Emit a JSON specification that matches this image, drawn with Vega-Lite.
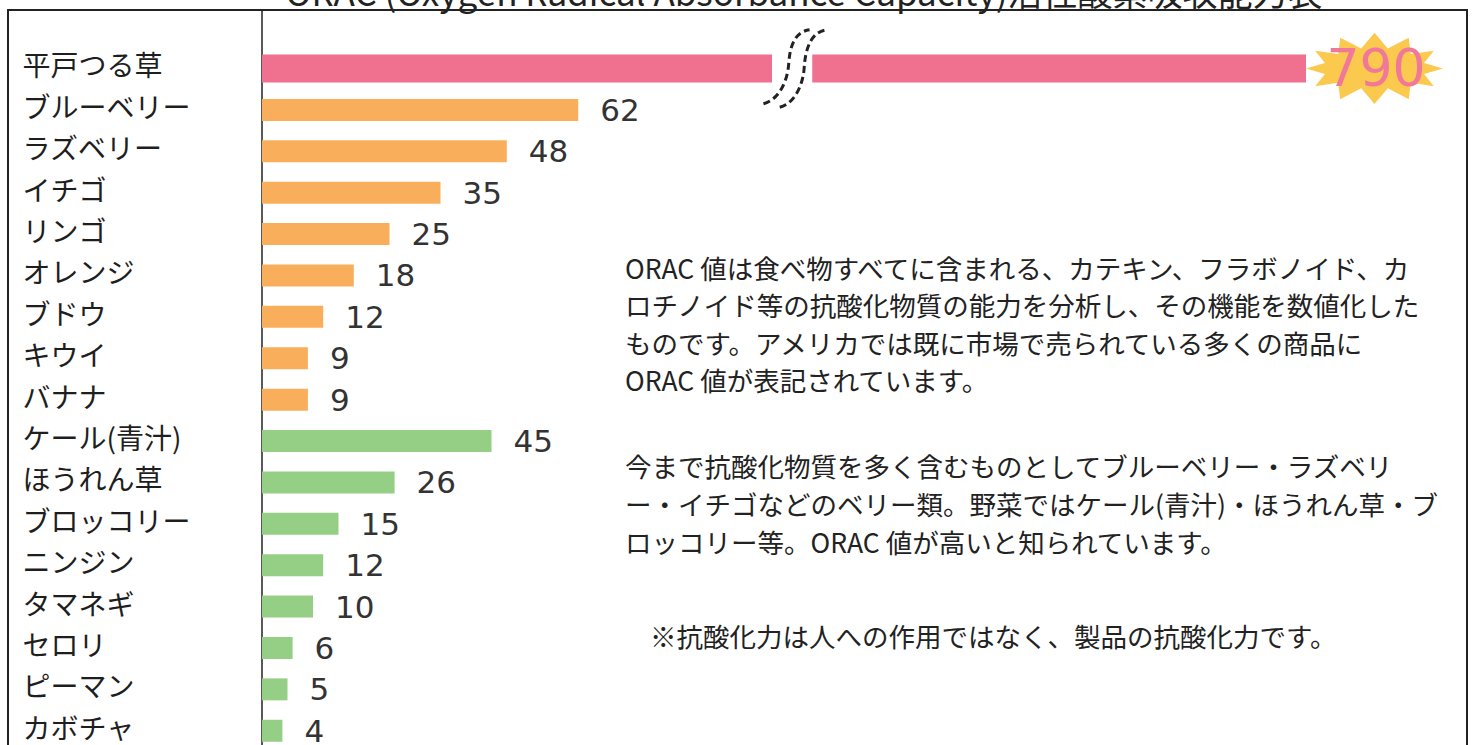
{
  "$schema": "https://vega.github.io/schema/vega-lite/v6.json",
  "width": 1459,
  "height": 767,
  "autosize": {"type": "none"},
  "padding": {"left": 8, "top": 10, "right": 8, "bottom": 0},
  "background": "white",
  "config": {
    "view": {"stroke": "#222222", "strokeWidth": 2},
    "font": "Noto Sans CJK JP"
  },
  "data": {
    "values": [
      {"item": "平戸つる草", "value": 790, "group": "hirado"},
      {"item": "ブルーベリー", "value": 62, "group": "fruit"},
      {"item": "ラズベリー", "value": 48, "group": "fruit"},
      {"item": "イチゴ", "value": 35, "group": "fruit"},
      {"item": "リンゴ", "value": 25, "group": "fruit"},
      {"item": "オレンジ", "value": 18, "group": "fruit"},
      {"item": "ブドウ", "value": 12, "group": "fruit"},
      {"item": "キウイ", "value": 9, "group": "fruit"},
      {"item": "バナナ", "value": 9, "group": "fruit"},
      {"item": "ケール(青汁)", "value": 45, "group": "vegetable"},
      {"item": "ほうれん草", "value": 26, "group": "vegetable"},
      {"item": "ブロッコリー", "value": 15, "group": "vegetable"},
      {"item": "ニンジン", "value": 12, "group": "vegetable"},
      {"item": "タマネギ", "value": 10, "group": "vegetable"},
      {"item": "セロリ", "value": 6, "group": "vegetable"},
      {"item": "ピーマン", "value": 5, "group": "vegetable"},
      {"item": "カボチャ", "value": 4, "group": "vegetable"}
    ]
  },
  "layer": [
    {
      "data": {"values": [{}]},
      "mark": {"type": "rule", "stroke": "#222222", "strokeWidth": 1.5},
      "encoding": {
        "x": {"datum": 0, "type": "quantitative", "axis": null,
          "scale": {"domain": [-49.8, 0, 100, 790, 880], "range": [0, 254, 764, 1298, 1459], "nice": false, "zero": false}}
      }
    },
    {
      "transform": [{"filter": "datum.group !== 'hirado'"}],
      "mark": {"type": "bar", "height": 22},
      "encoding": {
        "x": {"field": "value", "type": "quantitative", "axis": null,
          "scale": {"domain": [-49.8, 0, 100, 790, 880], "range": [0, 254, 764, 1298, 1459], "nice": false, "zero": false}},
        "x2": {"datum": 0},
        "y": {"field": "item", "type": "nominal",
          "scale": {"domain": ["平戸つる草","ブルーベリー","ラズベリー","イチゴ","リンゴ","オレンジ","ブドウ","キウイ","バナナ","ケール(青汁)","ほうれん草","ブロッコリー","ニンジン","タマネギ","セロリ","ピーマン","カボチャ"], "paddingInner": 0.47, "paddingOuter": 1, "align": 0.574},
          "axis": {"title": null, "domain": false, "ticks": false, "grid": false, "labelAlign": "left", "labelPadding": -14, "labelFont": "Noto Sans CJK JP", "labelFontSize": 28, "labelColor": "#1e1e1e", "labelLimit": 400, "labelBaseline": "middle"}},
        "color": {"field": "group", "type": "nominal", "legend": null,
          "scale": {"domain": ["hirado", "fruit", "vegetable"], "range": ["#F0718F", "#F9AE5C", "#95CF85"]}}
      }
    },
    {
      "transform": [{"filter": "datum.group === 'hirado'"}],
      "mark": {"type": "bar", "height": 28},
      "encoding": {
        "x": {"field": "value", "type": "quantitative", "axis": null,
          "scale": {"domain": [-49.8, 0, 100, 790, 880], "range": [0, 254, 764, 1298, 1459], "nice": false, "zero": false}},
        "x2": {"datum": 0},
        "y": {"field": "item", "type": "nominal",
          "scale": {"domain": ["平戸つる草","ブルーベリー","ラズベリー","イチゴ","リンゴ","オレンジ","ブドウ","キウイ","バナナ","ケール(青汁)","ほうれん草","ブロッコリー","ニンジン","タマネギ","セロリ","ピーマン","カボチャ"], "paddingInner": 0.47, "paddingOuter": 1, "align": 0.574},
          "axis": {"title": null, "domain": false, "ticks": false, "grid": false, "labelAlign": "left", "labelPadding": -14, "labelFont": "Noto Sans CJK JP", "labelFontSize": 28, "labelColor": "#1e1e1e", "labelLimit": 400, "labelBaseline": "middle"}},
        "color": {"field": "group", "type": "nominal", "legend": null,
          "scale": {"domain": ["hirado", "fruit", "vegetable"], "range": ["#F0718F", "#F9AE5C", "#95CF85"]}}
      }
    },
    {
      "data": {"values": [{}]},
      "mark": {"type": "bar", "height": 34, "color": "white"},
      "encoding": {
        "x": {"datum": 100, "type": "quantitative", "axis": null,
          "scale": {"domain": [-49.8, 0, 100, 790, 880], "range": [0, 254, 764, 1298, 1459], "nice": false, "zero": false}},
        "x2": {"datum": 152},
        "y": {"datum": "平戸つる草", "type": "nominal",
          "scale": {"domain": ["平戸つる草","ブルーベリー","ラズベリー","イチゴ","リンゴ","オレンジ","ブドウ","キウイ","バナナ","ケール(青汁)","ほうれん草","ブロッコリー","ニンジン","タマネギ","セロリ","ピーマン","カボチャ"], "paddingInner": 0.47, "paddingOuter": 1, "align": 0.574},
          "axis": {"title": null, "domain": false, "ticks": false, "grid": false, "labelAlign": "left", "labelPadding": -14, "labelFont": "Noto Sans CJK JP", "labelFontSize": 28, "labelColor": "#1e1e1e", "labelLimit": 400, "labelBaseline": "middle"}}
      }
    },
    {
      "data": {"values": [{}]},
      "mark": {"type": "point", "shape": "M-0.82,0.91 C-0.4,0.8 -0.2,0.3 -0.17,-0.1 C-0.14,-0.6 0,-0.95 0.37,-1 M-0.4,1 C0,0.9 0.2,0.4 0.23,0 C0.26,-0.5 0.4,-0.95 0.82,-1", "filled": false, "stroke": "#222222", "strokeWidth": 3, "strokeDash": [7, 4], "size": 6000, "opacity": 1},
      "encoding": {
        "x": {"datum": 130, "type": "quantitative", "axis": null,
          "scale": {"domain": [-49.8, 0, 100, 790, 880], "range": [0, 254, 764, 1298, 1459], "nice": false, "zero": false}},
        "y": {"datum": "平戸つる草", "type": "nominal",
          "scale": {"domain": ["平戸つる草","ブルーベリー","ラズベリー","イチゴ","リンゴ","オレンジ","ブドウ","キウイ","バナナ","ケール(青汁)","ほうれん草","ブロッコリー","ニンジン","タマネギ","セロリ","ピーマン","カボチャ"], "paddingInner": 0.47, "paddingOuter": 1, "align": 0.574},
          "axis": {"title": null, "domain": false, "ticks": false, "grid": false, "labelAlign": "left", "labelPadding": -14, "labelFont": "Noto Sans CJK JP", "labelFontSize": 28, "labelColor": "#1e1e1e", "labelLimit": 400, "labelBaseline": "middle"}}
      }
    },
    {
      "transform": [{"filter": "datum.group === 'hirado'"}],
      "mark": {"type": "point", "shape": "M1,-0.52 L1.194,-0.29 L1.5,-0.45 L1.53,-0.21 L1.866,-0.26 L1.724,-0.08 L2,0 L1.724,0.08 L1.866,0.26 L1.53,0.21 L1.5,0.45 L1.194,0.29 L1,0.52 L0.806,0.29 L0.5,0.45 L0.47,0.21 L0.134,0.26 L0.276,0.08 L0,0 L0.276,-0.08 L0.134,-0.26 L0.47,-0.21 L0.5,-0.45 L0.806,-0.29 Z", "filled": true, "fill": "#FCC94F", "strokeWidth": 0, "size": 18770, "opacity": 1},
      "encoding": {
        "x": {"field": "value", "type": "quantitative", "axis": null,
          "scale": {"domain": [-49.8, 0, 100, 790, 880], "range": [0, 254, 764, 1298, 1459], "nice": false, "zero": false}},
        "y": {"field": "item", "type": "nominal",
          "scale": {"domain": ["平戸つる草","ブルーベリー","ラズベリー","イチゴ","リンゴ","オレンジ","ブドウ","キウイ","バナナ","ケール(青汁)","ほうれん草","ブロッコリー","ニンジン","タマネギ","セロリ","ピーマン","カボチャ"], "paddingInner": 0.47, "paddingOuter": 1, "align": 0.574},
          "axis": {"title": null, "domain": false, "ticks": false, "grid": false, "labelAlign": "left", "labelPadding": -14, "labelFont": "Noto Sans CJK JP", "labelFontSize": 28, "labelColor": "#1e1e1e", "labelLimit": 400, "labelBaseline": "middle"}}
      }
    },
    {
      "transform": [{"filter": "datum.group === 'hirado'"}],
      "mark": {"type": "text", "align": "center", "baseline": "middle", "dx": 70, "dy": 2, "font": "DejaVu Sans", "fontSize": 52, "color": "#F2789A"},
      "encoding": {
        "x": {"field": "value", "type": "quantitative", "axis": null,
          "scale": {"domain": [-49.8, 0, 100, 790, 880], "range": [0, 254, 764, 1298, 1459], "nice": false, "zero": false}},
        "y": {"field": "item", "type": "nominal",
          "scale": {"domain": ["平戸つる草","ブルーベリー","ラズベリー","イチゴ","リンゴ","オレンジ","ブドウ","キウイ","バナナ","ケール(青汁)","ほうれん草","ブロッコリー","ニンジン","タマネギ","セロリ","ピーマン","カボチャ"], "paddingInner": 0.47, "paddingOuter": 1, "align": 0.574},
          "axis": {"title": null, "domain": false, "ticks": false, "grid": false, "labelAlign": "left", "labelPadding": -14, "labelFont": "Noto Sans CJK JP", "labelFontSize": 28, "labelColor": "#1e1e1e", "labelLimit": 400, "labelBaseline": "middle"}},
        "text": {"field": "value", "type": "quantitative"}
      }
    },
    {
      "transform": [{"filter": "datum.group !== 'hirado'"}],
      "mark": {"type": "text", "align": "left", "baseline": "middle", "dx": 22, "dy": 2, "font": "DejaVu Sans", "fontSize": 31, "color": "#333333"},
      "encoding": {
        "x": {"field": "value", "type": "quantitative", "axis": null,
          "scale": {"domain": [-49.8, 0, 100, 790, 880], "range": [0, 254, 764, 1298, 1459], "nice": false, "zero": false}},
        "y": {"field": "item", "type": "nominal",
          "scale": {"domain": ["平戸つる草","ブルーベリー","ラズベリー","イチゴ","リンゴ","オレンジ","ブドウ","キウイ","バナナ","ケール(青汁)","ほうれん草","ブロッコリー","ニンジン","タマネギ","セロリ","ピーマン","カボチャ"], "paddingInner": 0.47, "paddingOuter": 1, "align": 0.574},
          "axis": {"title": null, "domain": false, "ticks": false, "grid": false, "labelAlign": "left", "labelPadding": -14, "labelFont": "Noto Sans CJK JP", "labelFontSize": 28, "labelColor": "#1e1e1e", "labelLimit": 400, "labelBaseline": "middle"}},
        "text": {"field": "value", "type": "quantitative"}
      }
    },
    {
      "data": {"values": [{}]},
      "mark": {"type": "text", "align": "center", "baseline": "alphabetic", "dy": -62.5, "font": "Noto Sans CJK JP", "fontSize": 35, "color": "#222222",
        "text": "ORAC (Oxygen Radical Absorbance Capacity)活性酸素吸収能力表"},
      "encoding": {
        "x": {"datum": 141.3, "type": "quantitative", "axis": null,
          "scale": {"domain": [-49.8, 0, 100, 790, 880], "range": [0, 254, 764, 1298, 1459], "nice": false, "zero": false}},
        "y": {"datum": "平戸つる草", "type": "nominal",
          "scale": {"domain": ["平戸つる草","ブルーベリー","ラズベリー","イチゴ","リンゴ","オレンジ","ブドウ","キウイ","バナナ","ケール(青汁)","ほうれん草","ブロッコリー","ニンジン","タマネギ","セロリ","ピーマン","カボチャ"], "paddingInner": 0.47, "paddingOuter": 1, "align": 0.574},
          "axis": {"title": null, "domain": false, "ticks": false, "grid": false, "labelAlign": "left", "labelPadding": -14, "labelFont": "Noto Sans CJK JP", "labelFontSize": 28, "labelColor": "#1e1e1e", "labelLimit": 400, "labelBaseline": "middle"}}
      }
    },
    {
      "data": {"values": [{}]},
      "mark": {"type": "text", "align": "left", "baseline": "alphabetic", "dy": 3.1, "lineHeight": 37.5, "font": "Noto Sans CJK JP", "fontSize": 26.5, "color": "#222222",
        "text": ["ORAC  値は食べ物すべてに含まれる、カテキン、フラボノイド、カ", "ロチノイド等の抗酸化物質の能力を分析し、その機能を数値化した", "ものです。アメリカでは既に市場で売られている多くの商品に", "ORAC 値が表記されています。"]},
      "encoding": {
        "x": {"datum": 71.2, "type": "quantitative", "axis": null,
          "scale": {"domain": [-49.8, 0, 100, 790, 880], "range": [0, 254, 764, 1298, 1459], "nice": false, "zero": false}},
        "y": {"datum": "オレンジ", "type": "nominal",
          "scale": {"domain": ["平戸つる草","ブルーベリー","ラズベリー","イチゴ","リンゴ","オレンジ","ブドウ","キウイ","バナナ","ケール(青汁)","ほうれん草","ブロッコリー","ニンジン","タマネギ","セロリ","ピーマン","カボチャ"], "paddingInner": 0.47, "paddingOuter": 1, "align": 0.574},
          "axis": {"title": null, "domain": false, "ticks": false, "grid": false, "labelAlign": "left", "labelPadding": -14, "labelFont": "Noto Sans CJK JP", "labelFontSize": 28, "labelColor": "#1e1e1e", "labelLimit": 400, "labelBaseline": "middle"}}
      }
    },
    {
      "data": {"values": [{}]},
      "mark": {"type": "text", "align": "left", "baseline": "alphabetic", "dy": -5.5, "lineHeight": 38, "font": "Noto Sans CJK JP", "fontSize": 26.5, "color": "#222222",
        "text": ["今まで抗酸化物質を多く含むものとしてブルーベリー・ラズベリ", "ー・イチゴなどのベリー類。野菜ではケール(青汁)・ほうれん草・ブ", "ロッコリー等。ORAC 値が高いと知られています。"]},
      "encoding": {
        "x": {"datum": 71.2, "type": "quantitative", "axis": null,
          "scale": {"domain": [-49.8, 0, 100, 790, 880], "range": [0, 254, 764, 1298, 1459], "nice": false, "zero": false}},
        "y": {"datum": "ほうれん草", "type": "nominal",
          "scale": {"domain": ["平戸つる草","ブルーベリー","ラズベリー","イチゴ","リンゴ","オレンジ","ブドウ","キウイ","バナナ","ケール(青汁)","ほうれん草","ブロッコリー","ニンジン","タマネギ","セロリ","ピーマン","カボチャ"], "paddingInner": 0.47, "paddingOuter": 1, "align": 0.574},
          "axis": {"title": null, "domain": false, "ticks": false, "grid": false, "labelAlign": "left", "labelPadding": -14, "labelFont": "Noto Sans CJK JP", "labelFontSize": 28, "labelColor": "#1e1e1e", "labelLimit": 400, "labelBaseline": "middle"}}
      }
    },
    {
      "data": {"values": [{}]},
      "mark": {"type": "text", "align": "left", "baseline": "alphabetic", "dy": -1, "font": "Noto Sans CJK JP", "fontSize": 26.5, "color": "#222222",
        "text": "※抗酸化力は人への作用ではなく、製品の抗酸化力です。"},
      "encoding": {
        "x": {"datum": 76.1, "type": "quantitative", "axis": null,
          "scale": {"domain": [-49.8, 0, 100, 790, 880], "range": [0, 254, 764, 1298, 1459], "nice": false, "zero": false}},
        "y": {"datum": "セロリ", "type": "nominal",
          "scale": {"domain": ["平戸つる草","ブルーベリー","ラズベリー","イチゴ","リンゴ","オレンジ","ブドウ","キウイ","バナナ","ケール(青汁)","ほうれん草","ブロッコリー","ニンジン","タマネギ","セロリ","ピーマン","カボチャ"], "paddingInner": 0.47, "paddingOuter": 1, "align": 0.574},
          "axis": {"title": null, "domain": false, "ticks": false, "grid": false, "labelAlign": "left", "labelPadding": -14, "labelFont": "Noto Sans CJK JP", "labelFontSize": 28, "labelColor": "#1e1e1e", "labelLimit": 400, "labelBaseline": "middle"}}
      }
    }
  ]
}
